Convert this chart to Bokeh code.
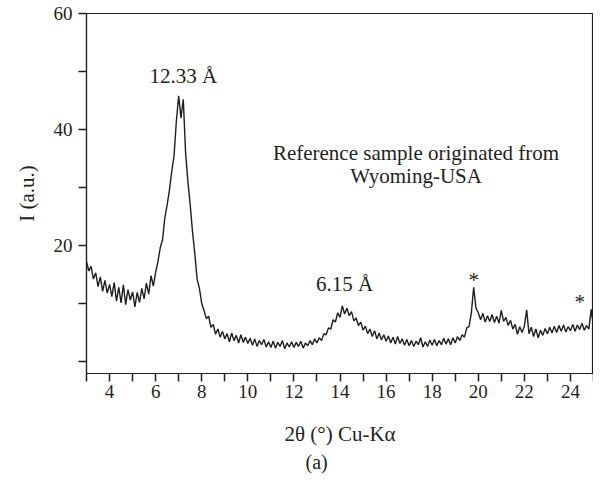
from bokeh.plotting import figure
from bokeh.models import Range1d, FixedTicker, Label, Title
from bokeh.embed import file_html
from bokeh.resources import INLINE

# 2-theta (degrees) sampled every 0.1 deg
two_theta = [
    3.0, 3.1, 3.2, 3.3, 3.4, 3.5, 3.6, 3.7, 3.8, 3.9,
    4.0, 4.1, 4.2, 4.3, 4.4, 4.5, 4.6, 4.7, 4.8, 4.9,
    5.0, 5.1, 5.2, 5.3, 5.4, 5.5, 5.6, 5.7, 5.8, 5.9,
    6.0, 6.1, 6.2, 6.3, 6.4, 6.5, 6.6, 6.7, 6.8, 6.9,
    7.0, 7.1, 7.2, 7.3, 7.4, 7.5, 7.6, 7.7, 7.8, 7.9,
    8.0, 8.1, 8.2, 8.3, 8.4, 8.5, 8.6, 8.7, 8.8, 8.9,
    9.0, 9.1, 9.2, 9.3, 9.4, 9.5, 9.6, 9.7, 9.8, 9.9,
    10.0, 10.1, 10.2, 10.3, 10.4, 10.5, 10.6, 10.7, 10.8, 10.9,
    11.0, 11.1, 11.2, 11.3, 11.4, 11.5, 11.6, 11.7, 11.8, 11.9,
    12.0, 12.1, 12.2, 12.3, 12.4, 12.5, 12.6, 12.7, 12.8, 12.9,
    13.0, 13.1, 13.2, 13.3, 13.4, 13.5, 13.6, 13.7, 13.8, 13.9,
    14.0, 14.1, 14.2, 14.3, 14.4, 14.5, 14.6, 14.7, 14.8, 14.9,
    15.0, 15.1, 15.2, 15.3, 15.4, 15.5, 15.6, 15.7, 15.8, 15.9,
    16.0, 16.1, 16.2, 16.3, 16.4, 16.5, 16.6, 16.7, 16.8, 16.9,
    17.0, 17.1, 17.2, 17.3, 17.4, 17.5, 17.6, 17.7, 17.8, 17.9,
    18.0, 18.1, 18.2, 18.3, 18.4, 18.5, 18.6, 18.7, 18.8, 18.9,
    19.0, 19.1, 19.2, 19.3, 19.4, 19.5, 19.6, 19.7, 19.8, 19.9,
    20.0, 20.1, 20.2, 20.3, 20.4, 20.5, 20.6, 20.7, 20.8, 20.9,
    21.0, 21.1, 21.2, 21.3, 21.4, 21.5, 21.6, 21.7, 21.8, 21.9,
    22.0, 22.1, 22.2, 22.3, 22.4, 22.5, 22.6, 22.7, 22.8, 22.9,
    23.0, 23.1, 23.2, 23.3, 23.4, 23.5, 23.6, 23.7, 23.8, 23.9,
    24.0, 24.1, 24.2, 24.3, 24.4, 24.5, 24.6, 24.7, 24.8, 24.9,
    25.0,
]

# Intensity (a.u.)
intensity = [
    17.2, 15.6, 16.4, 14.2, 15.3, 12.9, 14.6, 12.1, 14.0, 11.8,
    13.3, 11.2, 13.6, 10.4, 12.8, 10.1, 13.2, 9.8, 12.4, 10.6,
    12.0, 9.4, 11.9, 10.2, 12.6, 10.8, 13.5, 11.6, 14.8, 13.0,
    15.4, 17.2, 19.6, 21.0, 24.8, 27.0, 29.6, 32.8, 35.5, 41.5,
    45.8, 42.0, 45.2, 36.0, 31.0, 27.0, 22.4, 18.6, 14.2, 12.6,
    10.0, 8.8, 7.4, 7.8, 5.9, 6.4, 4.7, 5.6, 4.2, 5.2,
    3.9, 4.8, 3.4, 4.9, 3.6, 4.5, 3.2, 4.6, 3.3, 4.2,
    3.1, 4.0, 2.8, 3.9, 2.6, 3.6, 2.9, 3.8, 2.5, 3.4,
    2.4, 3.5, 2.3, 3.3, 2.6, 3.6, 2.2, 3.2, 2.5, 3.4,
    2.4, 3.3, 2.6, 3.5, 2.3, 3.2, 2.7, 3.6, 2.9, 3.9,
    3.2, 4.1, 3.6, 4.8, 4.6, 5.8, 5.6, 7.2, 6.8, 8.4,
    7.6, 9.6, 8.2, 9.2, 7.9, 8.6, 7.0, 7.5, 6.2, 6.8,
    5.4, 6.1, 4.8, 5.6, 4.3, 5.3, 3.9, 4.9, 3.7, 4.6,
    3.5, 4.4, 3.2, 4.2, 3.0, 4.3, 3.1, 3.9, 2.8, 3.8,
    2.7, 3.6, 2.6, 3.5, 2.9, 4.1, 2.5, 3.4, 2.6, 3.7,
    2.8, 3.8, 2.7, 3.6, 2.9, 4.0, 3.0, 3.9, 2.9, 4.1,
    3.2, 4.3, 3.6, 4.6, 4.2, 5.8, 6.0, 8.4, 12.8, 9.2,
    8.4, 7.2, 8.3, 6.8, 7.9, 6.9, 8.1, 6.7, 7.8, 6.6,
    8.8, 6.9, 7.6, 6.2, 7.1, 5.6, 6.4, 4.7, 6.0, 5.0,
    6.1, 8.9, 4.8, 5.9, 4.3, 5.6, 4.1, 5.4, 4.5, 5.7,
    4.8, 5.9, 4.9, 6.1, 5.0, 6.2, 5.2, 6.3, 5.1, 6.0,
    5.3, 6.4, 5.2, 6.3, 5.5, 6.6, 5.4, 6.2, 5.6, 9.0,
    6.0,
]

x_ticks = [3, 4, 5, 6, 7, 8, 9, 10, 11, 12, 13, 14, 15, 16, 17, 18, 19, 20, 21, 22, 23, 24, 25]
x_tick_labels = {3: "", 4: "4", 5: "", 6: "6", 7: "", 8: "8", 9: "", 10: "10", 11: "",
                 12: "12", 13: "", 14: "14", 15: "", 16: "16", 17: "", 18: "18", 19: "",
                 20: "20", 21: "", 22: "22", 23: "", 24: "24", 25: ""}
y_ticks = [0, 10, 20, 30, 40, 50, 60]
y_tick_labels = {0: "", 10: "", 20: "20", 30: "", 40: "40", 50: "", 60: "60"}

peak_labels = ["12.33 Å", "6.15 Å", "*", "*"]
peak_x = [7.2, 14.2, 19.8, 24.4]
peak_y = [49.3, 13.3, 14.0, 10.2]

note_lines = ["Reference sample originated from", "Wyoming-USA"]
note_x = 17.3
note_y = [36.0, 32.0]

FONT = "Liberation Serif"
INK = "#231f20"

p = figure(width=593, height=474, x_range=Range1d(3, 25), y_range=Range1d(-2.07, 60),
           output_backend="svg", toolbar_location=None,
           min_border_left=86, min_border_right=0, min_border_top=13, min_border_bottom=101)
p.background_fill_color = "white"
p.border_fill_color = "white"
p.grid.visible = False
p.outline_line_color = INK
p.outline_line_width = 1.2

p.line(two_theta, intensity, line_color="#1e1e1e", line_width=1.4)

for ax in (p.xaxis[0], p.yaxis[0]):
    ax.axis_line_color = INK
    ax.axis_line_width = 1.2
    ax.major_tick_line_color = INK
    ax.major_tick_line_width = 1.5
    ax.major_tick_in = 0
    ax.major_tick_out = 8
    ax.minor_tick_line_color = None
    ax.major_label_text_font = FONT
    ax.major_label_text_font_size = "19px"
    ax.major_label_text_color = INK
    ax.axis_label_text_font = FONT
    ax.axis_label_text_font_style = "normal"
    ax.axis_label_text_font_size = "21px"
    ax.axis_label_text_color = INK

p.xaxis.ticker = FixedTicker(ticks=x_ticks, minor_ticks=[])
p.xaxis.major_label_overrides = x_tick_labels
p.xaxis.major_label_standoff = 3
p.xaxis.axis_label = "2θ (°) Cu-Kα"
p.xaxis.axis_label_standoff = 21

p.yaxis.ticker = FixedTicker(ticks=y_ticks, minor_ticks=[])
p.yaxis.major_label_overrides = y_tick_labels
p.yaxis.major_label_standoff = 6
p.yaxis.axis_label = "I (a.u.)"
p.yaxis.axis_label_standoff = 12

p.add_layout(Title(text="(a)", align="left", offset=219, text_font=FONT,
                   text_font_size="20px", text_font_style="normal",
                   text_color=INK, standoff=0), "below")

for t, xx, yy in zip(peak_labels, peak_x, peak_y):
    p.add_layout(Label(x=xx, y=yy, text=t, text_font=FONT, text_font_size="21px",
                       text_color=INK, text_align="center", text_baseline="middle"))

for t, yy in zip(note_lines, note_y):
    p.add_layout(Label(x=note_x, y=yy, text=t, text_font=FONT, text_font_size="21px",
                       text_color=INK, text_align="center", text_baseline="middle"))

open("out.html", "w").write(file_html(p, INLINE))
